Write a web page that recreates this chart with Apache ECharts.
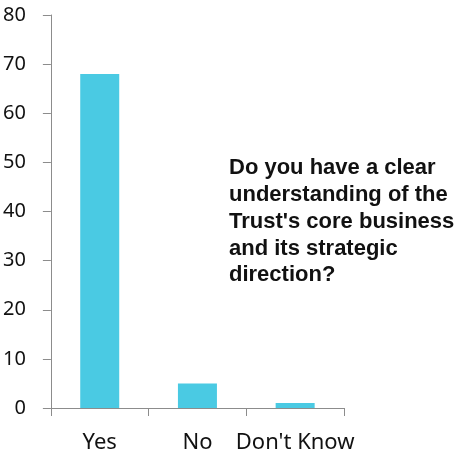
<!DOCTYPE html>
<html>
<head>
<meta charset="utf-8">
<script src="https://cdn.jsdelivr.net/npm/echarts@6/dist/echarts.min.js"></script>
<style>
  html, body { margin: 0; padding: 0; background: #fff; }
  #chart { width: 458px; height: 455px; }
</style>
</head>
<body>
<div id="chart"></div>
<script>
const categories = ['Yes', 'No', "Don't Know"];
const responses = [68, 5, 1];
const questionLines = [
  'Do you have a clear',
  'understanding of the',
  "Trust's core business",
  'and its strategic',
  'direction?'
];

const axisGray = '#8c8c8c';
const chart = echarts.init(document.getElementById('chart'), null, { renderer: 'canvas' });

chart.setOption({
  animation: false,
  backgroundColor: '#ffffff',
  grid: { left: 50, right: 114, top: 15, bottom: 47, containLabel: false },
  xAxis: {
    type: 'category',
    data: categories,
    axisLine: { show: true, lineStyle: { color: axisGray, width: 1 } },
    axisTick: { show: true, inside: false, length: 8, alignWithLabel: false, lineStyle: { color: axisGray } },
    axisLabel: { interval: 0, hideOverlap: false, margin: 24, color: '#111', fontFamily: 'Noto Sans', fontSize: 22 },
    splitLine: { show: false }
  },
  yAxis: {
    type: 'value',
    min: 0,
    max: 80,
    interval: 10,
    axisLine: { show: true, lineStyle: { color: axisGray, width: 1 } },
    axisTick: { show: true, inside: false, length: 8, lineStyle: { color: axisGray } },
    axisLabel: { margin: 25, color: '#111', fontFamily: 'Noto Sans', fontSize: 20 },
    splitLine: { show: false }
  },
  series: [{
    type: 'bar',
    data: responses,
    barWidth: 39,
    itemStyle: { color: '#4acae3' }
  }],
  graphic: [{
    type: 'text',
    left: 229,
    top: 155,
    style: {
      text: questionLines.join('\n'),
      font: 'bold 22px "Liberation Sans", Arial, sans-serif',
      lineHeight: 26.7,
      fill: '#111'
    }
  }]
});
</script>
</body>
</html>
